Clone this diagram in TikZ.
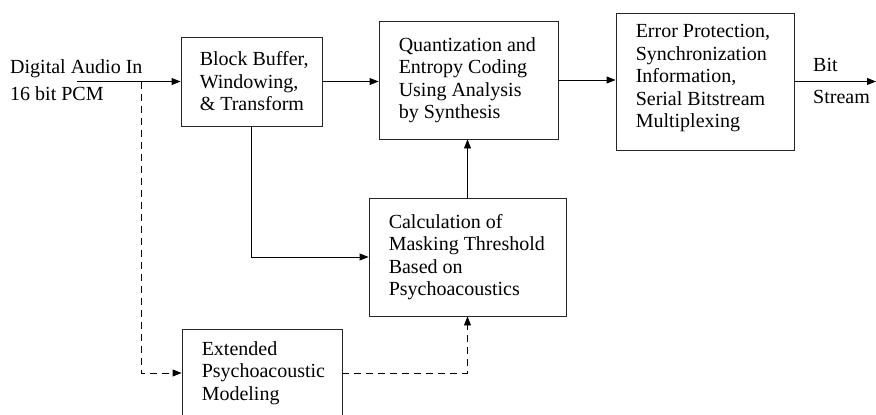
\documentclass[tikz,border=0pt]{standalone}
\usepackage{fontspec}
\setmainfont{Liberation Serif}
\usetikzlibrary{arrows.meta}
\begin{document}
\begin{tikzpicture}[x=1pt,y=-1pt,
  txt/.style={font=\fontsize{20}{22.5}\selectfont},
  box/.style={draw=black!85, line width=0.9pt, inner sep=0pt},
  btxt/.style={txt, align=left, anchor=west, inner sep=0pt},
  arr/.style={line width=0.9pt, -{Triangle[length=9pt,width=7pt]}},
  darr/.style={arr, dash pattern=on 7pt off 5pt}]
\useasboundingbox (0,0) rectangle (876,415);
\node[box, minimum width=141pt, minimum height=89pt] (b1) at (251.5,81.5) {};
\node[box, minimum width=179pt, minimum height=118pt] (b2) at (468.5,80) {};
\node[box, minimum width=178pt, minimum height=137pt] (b3) at (705,81.5) {};
\node[box, minimum width=197pt, minimum height=118pt] (b4) at (467.5,257) {};
\node[box, minimum width=160pt, minimum height=88pt] (b5) at (262,373) {};
\node[btxt] (t1) at ([xshift=19pt]b1.west) {Block Buffer,\\Windowing,\\\& Transform};
\node[btxt] (t2) at ([xshift=20pt]b2.west) {Quantization and\\Entropy Coding\\Using Analysis\\by Synthesis};
\node[btxt] (t3) at ([xshift=20pt,yshift=3pt]b3.west) {Error Protection,\\Synchronization\\Information,\\Serial Bitstream\\Multiplexing};
\node[btxt] (t4) at ([xshift=20pt]b4.west) {Calculation of\\Masking Threshold\\Based on\\Psychoacoustics};
\node[btxt] (t5) at ([xshift=20pt]b5.west) {Extended\\Psychoacoustic\\Modeling};
\node[txt, anchor=base west, inner sep=0pt] (l1) at (10,73) {Digital Audio In};
\node[txt, anchor=base west, inner sep=0pt] (l2) at (10,100) {16 bit PCM};
\node[txt, anchor=base west, inner sep=0pt] (o1) at (813,71) {Bit};
\node[txt, anchor=base west, inner sep=0pt] (o2) at (813,103) {Stream};
\coordinate (in) at (77,81.5);
\coordinate (br) at (141,81.5);
\coordinate (out) at (876,81.5);
\draw[arr] (in) -- (b1.west);
\draw[arr] (b1.east) -- (b1.east -| b2.west);
\draw[arr] (b2.east) -- (b2.east -| b3.west);
\draw[arr] (b3.east) -- (out);
\draw[arr] (b1.south) |- (b4.west);
\draw[arr] (b4.north) -- (b4.north |- b2.south);
\draw[darr] (br) |- (b5.west);
\draw[darr] (b5.east) -| (b4.south);
\end{tikzpicture}
\end{document}
